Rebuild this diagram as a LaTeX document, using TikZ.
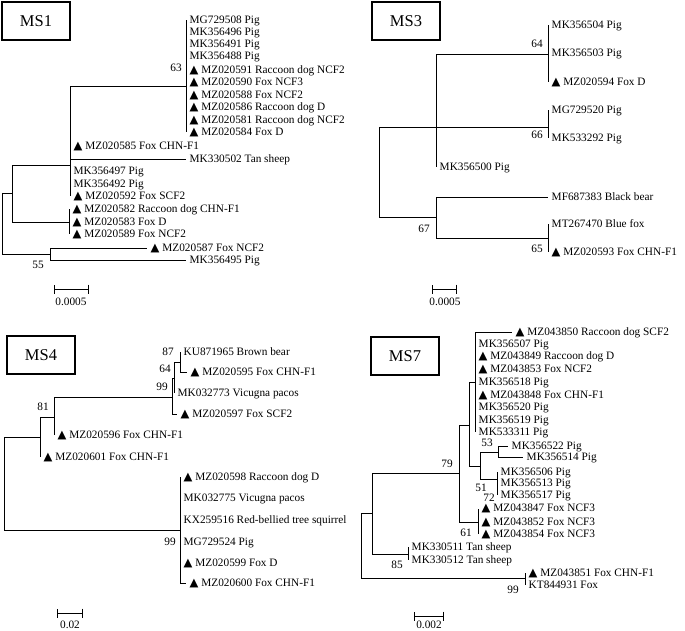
\documentclass[tikz,border=0pt]{standalone}
\usepackage{fontspec}
\setmainfont{Liberation Serif}
\newfontfamily\trifont{DejaVu Sans}
\usetikzlibrary{arrows.meta}
\newcommand{\tri}{{\trifont\fontsize{11.5}{11.5}\selectfont ▲}}
\tikzset{
  branch/.style={line width=0.9pt},
  leaf/.style={anchor=west, inner xsep=3.5pt, inner ysep=0pt, font=\fontsize{11.3}{13}\selectfont, text height=1.6ex, text depth=.25ex},
  boot/.style={inner sep=0pt, font=\fontsize{11.3}{13}\selectfont},
  panel/.style={draw, line width=1.1pt, inner sep=0pt, minimum width=68pt, minimum height=38pt, font=\fontsize{16.5}{18}\selectfont},
  scalebar/.style={line width=0.9pt, {Bar[width=9pt]}-{Bar[width=9pt]}},
}

\begin{document}
\begin{tikzpicture}[x=1pt,y=-1pt]
            \useasboundingbox (0,0) rectangle (685,631);

            % MS1
            \node[panel] (ms1) at (36,21) {MS1};
            \coordinate (s1root) at (2,193);
            \coordinate (s1a) at (12,193);
            \coordinate (s1b) at (70,165);
            \coordinate (s1c) at (186,86);
            \coordinate (s1d) at (69,222);
            \coordinate (s1e) at (50,254);

            \node[leaf] (s1l1) at (186,20) {MG729508 Pig};
            \node[leaf] (s1l2) at (186,32) {MK356496 Pig};
            \node[leaf] (s1l3) at (186,44) {MK356491 Pig};
            \node[leaf] (s1l4) at (186,56) {MK356488 Pig};
            \node[leaf] (s1l5) at (186,70) {\tri\ MZ020591 Raccoon dog NCF2};
            \node[leaf] (s1l6) at (186,82) {\tri\ MZ020590 Fox NCF3};
            \node[leaf] (s1l7) at (186,95) {\tri\ MZ020588 Fox NCF2};
            \node[leaf] (s1l8) at (186,107) {\tri\ MZ020586 Raccoon dog D};
            \node[leaf] (s1l9) at (186,120) {\tri\ MZ020581 Raccoon dog NCF2};
            \node[leaf] (s1l10) at (186,132) {\tri\ MZ020584 Fox D};
            \node[leaf] (s1l11) at (70,146) {\tri\ MZ020585 Fox CHN-F1};
            \node[leaf] (s1l12) at (186,159) {MK330502 Tan sheep};
            \node[leaf] (s1l13) at (70,171) {MK356497 Pig};
            \node[leaf] (s1l14) at (70,184) {MK356492 Pig};
            \node[leaf] (s1l15) at (70,196) {\tri\ MZ020592 Fox SCF2};
            \node[leaf] (s1l16) at (69,209) {\tri\ MZ020582 Raccoon dog CHN-F1};
            \node[leaf] (s1l17) at (69,222) {\tri\ MZ020583 Fox D};
            \node[leaf] (s1l18) at (69,234) {\tri\ MZ020589 Fox NCF2};
            \node[leaf] (s1l19) at (147,248) {\tri\ MZ020587 Fox NCF2};
            \node[leaf] (s1l20) at (186,260) {MK356495 Pig};

            \draw[branch] (s1root) |- (s1a) (s1root) |- (s1e);
            \draw[branch] (s1a) |- (s1b) (s1a) |- (s1d);
            \draw[branch] (s1b) |- (s1c) (s1b) |- (s1l11.west) (s1b) |- (s1l12.west)
                (s1b) |- (s1l13.west) (s1b) |- (s1l14.west) (s1b) |- (s1l15.west);
            \draw[branch] (s1c) |- (s1l1.west) (s1c) |- (s1l2.west) (s1c) |- (s1l3.west)
                (s1c) |- (s1l4.west) (s1c) |- (s1l5.west) (s1c) |- (s1l6.west)
                (s1c) |- (s1l7.west) (s1c) |- (s1l8.west) (s1c) |- (s1l9.west)
                (s1c) |- (s1l10.west);
            \draw[branch] (s1d) |- (s1l16.west) (s1d) |- (s1l17.west) (s1d) |- (s1l18.west);
            \draw[branch] (s1e) |- (s1l19.west) (s1e) |- (s1l20.west);

            \node[boot] at (176,68) {63};
            \node[boot] at (38,265) {55};

            \coordinate (s1bar1) at (54,289);
            \coordinate (s1bar2) at (89,289);
            \draw[scalebar] (s1bar1) -- (s1bar2);
            \node[boot] at (71,302) {0.0005};

            % MS3
            \node[panel] (ms3) at (406,21) {MS3};
            \coordinate (s3root) at (379,127);
            \coordinate (s3a) at (436,127);
            \coordinate (s3b) at (436,217);
            \coordinate (s3c) at (548,54);
            \coordinate (s3d) at (548,127);
            \coordinate (s3e) at (548,238);

            \node[leaf] (s3l1) at (548,25) {MK356504 Pig};
            \node[leaf] (s3l2) at (548,53) {MK356503 Pig};
            \node[leaf] (s3l3) at (548,82) {\tri\ MZ020594 Fox D};
            \node[leaf] (s3l4) at (548,110) {MG729520 Pig};
            \node[leaf] (s3l5) at (548,138) {MK533292 Pig};
            \node[leaf] (s3l6) at (436,167) {MK356500 Pig};
            \node[leaf] (s3l7) at (548,197) {MF687383 Black bear};
            \node[leaf] (s3l8) at (548,224) {MT267470 Blue fox};
            \node[leaf] (s3l9) at (548,252) {\tri\ MZ020593 Fox CHN-F1};

            \draw[branch] (s3root) |- (s3a) (s3root) |- (s3b);
            \draw[branch] (s3a) |- (s3c) (s3a) |- (s3d) (s3a) |- (s3l6.west);
            \draw[branch] (s3c) |- (s3l1.west) (s3c) |- (s3l2.west) (s3c) |- (s3l3.west);
            \draw[branch] (s3d) |- (s3l4.west) (s3d) |- (s3l5.west);
            \draw[branch] (s3b) |- (s3l7.west) (s3b) |- (s3e);
            \draw[branch] (s3e) |- (s3l8.west) (s3e) |- (s3l9.west);

            \node[boot] at (537,44) {64};
            \node[boot] at (537,135) {66};
            \node[boot] at (424,229) {67};
            \node[boot] at (537,249) {65};

            \coordinate (s3bar1) at (432,289);
            \coordinate (s3bar2) at (457,289);
            \draw[scalebar] (s3bar1) -- (s3bar2);
            \node[boot] at (445,302) {0.0005};

            % MS4
            \node[panel] (ms4) at (41,355) {MS4};
            \coordinate (s4root) at (4,437);
            \coordinate (s4a) at (40,437);
            \coordinate (s4b) at (180,530);
            \coordinate (s4c) at (54,417);
            \coordinate (s4d) at (172,397);
            \coordinate (s4e) at (174,378);
            \coordinate (s4f) at (180,362);

            \node[leaf] (s4l1) at (180,352) {KU871965 Brown bear};
            \node[leaf] (s4l2) at (187,372) {\tri\ MZ020595 Fox CHN-F1};
            \node[leaf] (s4l3) at (174,393) {MK032773 Vicugna pacos};
            \node[leaf] (s4l4) at (177,414) {\tri\ MZ020597 Fox SCF2};
            \node[leaf] (s4l5) at (54,435) {\tri\ MZ020596 Fox CHN-F1};
            \node[leaf] (s4l6) at (40,457) {\tri\ MZ020601 Fox CHN-F1};
            \node[leaf] (s4l7) at (180,477) {\tri\ MZ020598 Raccoon dog D};
            \node[leaf] (s4l8) at (180,498) {MK032775 Vicugna pacos};
            \node[leaf] (s4l9) at (180,520) {KX259516 Red-bellied tree squirrel};
            \node[leaf] (s4l10) at (180,542) {MG729524 Pig};
            \node[leaf] (s4l11) at (180,563) {\tri\ MZ020599 Fox D};
            \node[leaf] (s4l12) at (186,583) {\tri\ MZ020600 Fox CHN-F1};

            \draw[branch] (s4root) |- (s4a) (s4root) |- (s4b);
            \draw[branch] (s4a) |- (s4c) (s4a) |- (s4l6.west);
            \draw[branch] (s4c) |- (s4d) (s4c) |- (s4l5.west);
            \draw[branch] (s4d) |- (s4e) (s4d) |- (s4l4.west);
            \draw[branch] (s4e) |- (s4f) (s4e) |- (s4l3.west);
            \draw[branch] (s4f) |- (s4l1.west) (s4f) |- (s4l2.west);
            \draw[branch] (s4b) |- (s4l7.west) (s4b) |- (s4l8.west) (s4b) |- (s4l9.west)
                (s4b) |- (s4l10.west) (s4b) |- (s4l11.west) (s4b) |- (s4l12.west);

            \node[boot] at (168,352) {87};
            \node[boot] at (165,369) {64};
            \node[boot] at (162,387) {99};
            \node[boot] at (43,407) {81};
            \node[boot] at (170,542) {99};

            \coordinate (s4bar1) at (57,613);
            \coordinate (s4bar2) at (83,613);
            \draw[scalebar] (s4bar1) -- (s4bar2);
            \node[boot] at (70,624.5) {0.02};

            % MS7
            \node[panel] (ms7) at (405,356) {MS7};
            \coordinate (s7root) at (361,513);
            \coordinate (s7a) at (372,513);
            \coordinate (s7b) at (525,578);
            \coordinate (s7c) at (459,473);
            \coordinate (s7d) at (408,554);
            \coordinate (s7e) at (469,425);
            \coordinate (s7f) at (478,522);
            \coordinate (s7g) at (475,382);
            \coordinate (s7h) at (480,466);
            \coordinate (s7i) at (498,452);
            \coordinate (s7j) at (497,479);

            \node[leaf] (s7l1) at (512,332) {\tri\ MZ043850 Raccoon dog SCF2};
            \node[leaf] (s7l2) at (475,344) {MK356507 Pig};
            \node[leaf] (s7l3) at (475,356) {\tri\ MZ043849 Raccoon dog D};
            \node[leaf] (s7l4) at (475,369) {\tri\ MZ043853 Fox NCF2};
            \node[leaf] (s7l5) at (475,382) {MK356518 Pig};
            \node[leaf] (s7l6) at (475,395) {\tri\ MZ043848 Fox CHN-F1};
            \node[leaf] (s7l7) at (475,407) {MK356520 Pig};
            \node[leaf] (s7l8) at (475,420) {MK356519 Pig};
            \node[leaf] (s7l9) at (475,432) {MK533311 Pig};
            \node[leaf] (s7l10) at (508,446) {MK356522 Pig};
            \node[leaf] (s7l11) at (523,457) {MK356514 Pig};
            \node[leaf] (s7l12) at (497,472) {MK356506 Pig};
            \node[leaf] (s7l13) at (497,483) {MK356513 Pig};
            \node[leaf] (s7l14) at (497,495) {MK356517 Pig};
            \node[leaf] (s7l15) at (478,508.5) {\tri\ MZ043847 Fox NCF3};
            \node[leaf] (s7l16) at (478,522) {\tri\ MZ043852 Fox NCF3};
            \node[leaf] (s7l17) at (478,534) {\tri\ MZ043854 Fox NCF3};
            \node[leaf] (s7l18) at (408,547) {MK330511 Tan sheep};
            \node[leaf] (s7l19) at (408,560) {MK330512 Tan sheep};
            \node[leaf] (s7l20) at (525,573) {\tri\ MZ043851 Fox CHN-F1};
            \node[leaf] (s7l21) at (525,585) {KT844931 Fox};

            \draw[branch] (s7root) |- (s7a) (s7root) |- (s7b);
            \draw[branch] (s7a) |- (s7c) (s7a) |- (s7d);
            \draw[branch] (s7c) |- (s7e) (s7c) |- (s7f);
            \draw[branch] (s7e) |- (s7g) (s7e) |- (s7h);
            \draw[branch] (s7g) |- (s7l1.west) (s7g) |- (s7l2.west) (s7g) |- (s7l3.west)
                (s7g) |- (s7l4.west) (s7g) |- (s7l5.west) (s7g) |- (s7l6.west)
                (s7g) |- (s7l7.west) (s7g) |- (s7l8.west) (s7g) |- (s7l9.west);
            \draw[branch] (s7h) |- (s7i) (s7h) |- (s7j);
            \draw[branch] (s7i) |- (s7l10.west) (s7i) |- (s7l11.west);
            \draw[branch] (s7j) |- (s7l12.west) (s7j) |- (s7l13.west) (s7j) |- (s7l14.west);
            \draw[branch] (s7f) |- (s7l15.west) (s7f) |- (s7l16.west) (s7f) |- (s7l17.west);
            \draw[branch] (s7d) |- (s7l18.west) (s7d) |- (s7l19.west);
            \draw[branch] (s7b) |- (s7l20.west) (s7b) |- (s7l21.west);

            \node[boot] at (487,443) {53};
            \node[boot] at (481,488) {51};
            \node[boot] at (489,498) {72};
            \node[boot] at (466,533) {61};
            \node[boot] at (447,464) {79};
            \node[boot] at (397,565) {85};
            \node[boot] at (513,590) {99};

            \coordinate (s7bar1) at (414,616);
            \coordinate (s7bar2) at (444,616);
            \draw[scalebar] (s7bar1) -- (s7bar2);
            \node[boot] at (429,624.5) {0.002};
        \end{tikzpicture}
\end{document}
